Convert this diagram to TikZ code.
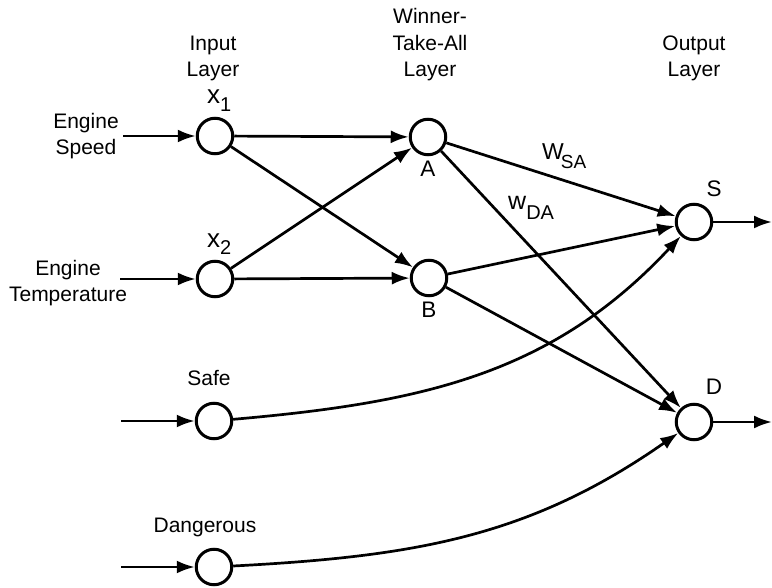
\documentclass[tikz,border=0pt]{standalone}
\usepackage{fontspec}
\setmainfont{Liberation Sans}
\usetikzlibrary{arrows.meta, positioning, calc}

\tikzset{
  neuron/.style={draw, circle, line width=3pt, minimum size=35.5pt, inner sep=0pt},
  conn/.style={line width=2.7pt, -{Latex[length=18pt, width=13pt]}},
  txt/.style={align=center, inner sep=0pt, font=\fontsize{21}{26.5}\selectfont},
  letter/.style={anchor=base, inner sep=0pt, font=\fontsize{22.5}{22.5}\selectfont}
}

\begin{document}
\begin{tikzpicture}[x=1pt, y=-1pt]
  \useasboundingbox (0,0) rectangle (772,588);

  % layer titles
  \node[txt, anchor=north] (inlay) at (213,35.5) {Input\\Layer};
  \node[txt, anchor=north] (wtalay) at (430,8.5) {Winner-\\Take-All\\Layer};
  \node[txt, anchor=north] (outlay) at (694,35.5) {Output\\Layer};

  % neurons
  \node[neuron] (x1) at (215,136) {};
  \node[neuron] (x2) at (215,279) {};
  \node[neuron] (safe) at (214,421) {};
  \node[neuron] (dang) at (214,567) {};
  \node[neuron] (A) at (428,137) {};
  \node[neuron] (B) at (429,278) {};
  \node[neuron] (S) at (694,222) {};
  \node[neuron] (D) at (694,422) {};

  % neuron labels
  \node[anchor=base west, inner sep=0pt] (x1lab) at (207,104)
    {\fontsize{26}{26}\selectfont x\raisebox{-8pt}{\fontsize{20}{20}\selectfont 1}};
  \node[anchor=base west, inner sep=0pt] (x2lab) at (207,248)
    {\fontsize{26}{26}\selectfont x\raisebox{-7pt}{\fontsize{20}{20}\selectfont 2}};
  \node[letter] (Alab) at (428,177) {A};
  \node[letter] (Blab) at (429,318) {B};
  \node[letter] (Slab) at (714,197) {S};
  \node[letter] (Dlab) at (714,395) {D};

  % inputs
  \node[txt, anchor=north] (speed) at (86,113) {Engine\\Speed};
  \node[txt, anchor=north] (temp) at (68,260) {Engine\\Temperature};
  \node[txt, anchor=base] (safelab) at (209,386) {Safe};
  \node[txt, anchor=base] (danglab) at (205,532) {Dangerous};

  \coordinate (in1) at (123,136);
  \coordinate (in2) at (120,279);
  \coordinate (in3) at (121,421);
  \coordinate (in4) at (121,567);
  \coordinate (outS) at (772,222);
  \coordinate (outD) at (772,422);

  \draw[conn] (in1) -- (x1);
  \draw[conn] (in2) -- (x2);
  \draw[conn] (in3) -- (safe);
  \draw[conn] (in4) -- (dang);

  \draw[conn] (x1) -- (A);
  \draw[conn] (x1) -- (B);
  \draw[conn] (x2) -- (A);
  \draw[conn] (x2) -- (B);
  \draw[conn] (A) -- (S);
  \draw[conn] (A) -- (D);
  \draw[conn] (B) -- (S);
  \draw[conn] (B) -- (D);
  \draw[conn] (safe) to[out=5, in=-133] (S);
  \draw[conn] (dang) to[out=3, in=-145] (D);
  \draw[conn] (S) -- (outS);
  \draw[conn] (D) -- (outD);

  % weights
  \node[anchor=base west, inner sep=0pt] (wsa) at (542,160)
    {\fontsize{23}{23}\selectfont W\kern-3pt\raisebox{-9pt}{\fontsize{19}{19}\selectfont SA}};
  \node[anchor=base west, inner sep=0pt] (wda) at (508,210)
    {\fontsize{25}{25}\selectfont w\raisebox{-10pt}{\fontsize{20}{20}\selectfont DA}};
\end{tikzpicture}
\end{document}
